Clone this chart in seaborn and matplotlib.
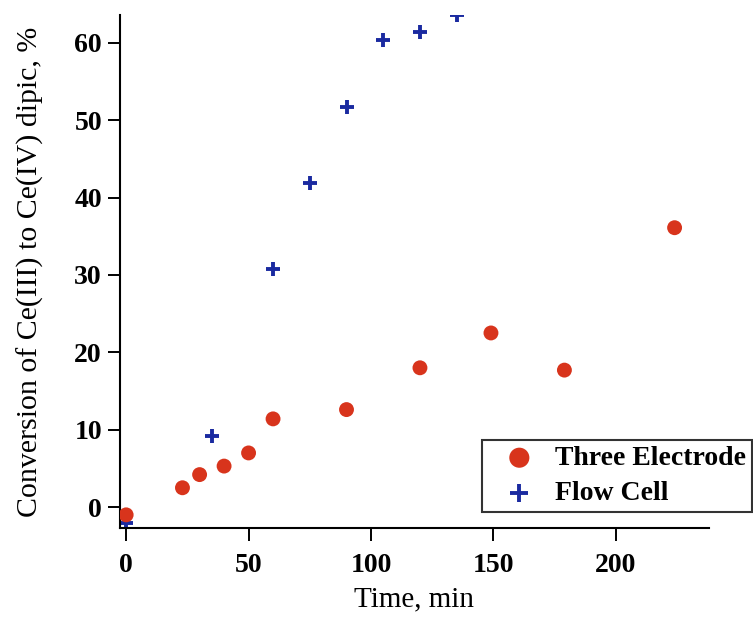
import numpy as np
import pandas as pd
import matplotlib
matplotlib.use("Agg")
import matplotlib.pyplot as plt
import seaborn as sns

# data
three_time = [0, 23, 30, 40, 50, 60, 90, 120, 149, 179, 224]
three_conv = [-1.0, 2.5, 4.2, 5.3, 7.0, 11.4, 12.6, 18.0, 22.5, 17.7, 36.1]
flow_time = [0, 35, 60, 75, 90, 105, 120, 135]
flow_conv = [-2.0, 9.2, 30.8, 41.9, 51.7, 60.4, 61.4, 63.6]

x_ticks = [0, 50, 100, 150, 200]
y_ticks = [0, 10, 20, 30, 40, 50, 60]

RED = "#d8341c"
BLUE = "#1a2aa0"

sns.set_style("ticks")
plt.rcParams["font.family"] = ["Liberation Serif", "DejaVu Serif"]
plt.rcParams["text.color"] = "black"
plt.rcParams["axes.labelcolor"] = "black"

df_three = pd.DataFrame({"t": three_time, "c": three_conv})
df_flow = pd.DataFrame({"t": flow_time, "c": flow_conv})

fig = plt.figure(figsize=(7.53, 6.19), dpi=100)
ax = fig.add_axes([0.1594, 0.147, 0.782, 0.829])

sns.scatterplot(data=df_three, x="t", y="c", ax=ax, color=RED, marker="o",
                s=115, edgecolor="none", label="Three Electrode", zorder=3)
sns.scatterplot(data=df_flow, x="t", y="c", ax=ax, color=BLUE, marker="+",
                s=100, linewidth=2.8, label="Flow Cell", zorder=2)

ax.set_xlim(-2.5, 238)
ax.set_ylim(-2.7, 63.6)
ax.set_xticks(x_ticks)
ax.set_yticks(y_ticks)
ax.tick_params(direction="out", length=9, width=1.4, labelsize=20, pad=4,
               colors="black")
ax.tick_params(axis="x", pad=9)
for lab in ax.get_xticklabels() + ax.get_yticklabels():
    lab.set_fontweight("bold")
for side in ["top", "right"]:
    ax.spines[side].set_visible(False)
for side in ["left", "bottom"]:
    ax.spines[side].set_linewidth(1.5)
    ax.spines[side].set_color("black")

ax.set_xlabel("Time, min", fontsize=21, labelpad=6)
ax.set_ylabel("Conversion of Ce(III) to Ce(IV) dipic, %", fontsize=21.5, labelpad=22)

leg = ax.legend(loc="upper right", bbox_to_anchor=(752 / 753, 1 - 440 / 619),
                bbox_transform=fig.transFigure, borderaxespad=0, fontsize=20,
                frameon=True, fancybox=False, edgecolor="black",
                handletextpad=0.15, borderpad=0.2, labelspacing=0.35,
                handlelength=2.3, markerscale=1.35)
leg.get_frame().set_linewidth(1.5)
for t in leg.get_texts():
    t.set_fontweight("bold")

fig.savefig("out.png", dpi=100)
